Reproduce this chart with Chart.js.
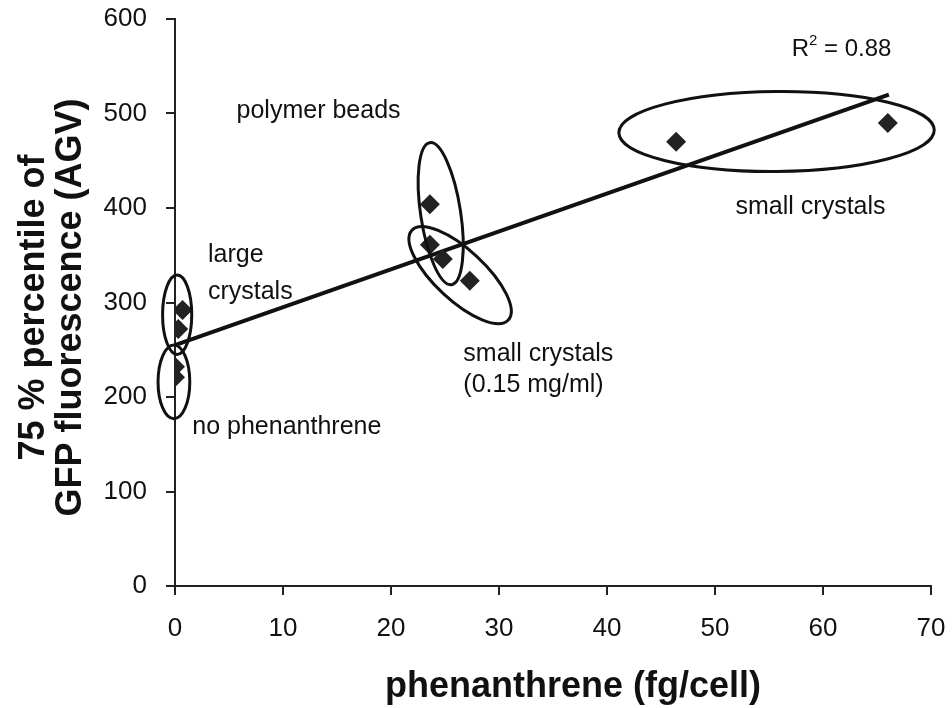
<!DOCTYPE html>
<html>
<head>
<meta charset="utf-8">
<script src="https://cdn.jsdelivr.net/npm/chart.js@4.4.1/dist/chart.umd.min.js"></script>
<style>
  html, body { margin: 0; padding: 0; background: #fff; }
  #chart { display: block; }
</style>
</head>
<body>
<canvas id="chart" width="952" height="708"></canvas>
<script>
// Measured samples: phenanthrene per cell vs 75th percentile GFP fluorescence
const phenX = [0.7, 0.3, 0, 0, 23.6, 23.6, 24.8, 27.3, 46.4, 66.0];
const gfpY = [292, 272, 232, 221, 404, 361, 346, 323, 470, 490];

// Linear fit endpoints
const fitX = [0, 66.1];
const fitY = [255, 520];
const rSquared = "0.88";

// Axis ranges
const xMin = 0, xMax = 70, xStep = 10;
const yMin = 0, yMax = 600, yStep = 100;

// Group labels (data coordinates, left edge / vertical middle)
const groupLabels = ["polymer beads", "large", "crystals", "small crystals", "small crystals", "(0.15 mg/ml)", "no phenanthrene"];
const groupLabelX = [5.7, 3.05, 3.05, 51.9, 26.7, 26.7, 1.6];
const groupLabelY = [503, 350, 311, 401, 245, 213, 168];

// Group outlines: centre, radii (x units, y units), tilt in degrees
const ringX = [0.2, -0.1, 24.6, 26.4, 55.7];
const ringY = [287, 216, 394, 329, 481];
const ringRx = [1.35, 1.47, 1.85, 6.1, 14.6];
const ringRy = [42, 39, 76, 26.5, 42.3];
const ringTilt = [0, 0, -8.7, 43, -0.5];

const FONT = "'Liberation Sans', Arial, sans-serif";

const points = phenX.map((x, i) => ({ x, y: gfpY[i] }));
const fitLine = fitX.map((x, i) => ({ x, y: fitY[i] }));

// Ellipses, group labels, R² and axis titles
const overlayPlugin = {
  id: "overlay",
  afterDatasetsDraw(chart) {
    const { ctx } = chart;
    const xs = chart.scales.x;
    const ys = chart.scales.y;

    ctx.save();
    ctx.strokeStyle = "#111";
    ctx.lineWidth = 3;
    ringX.forEach((cx, i) => {
      const px = xs.getPixelForValue(cx);
      const py = ys.getPixelForValue(ringY[i]);
      const rx = Math.abs(xs.getPixelForValue(cx + ringRx[i]) - px);
      const ry = Math.abs(ys.getPixelForValue(ringY[i] + ringRy[i]) - py);
      ctx.beginPath();
      ctx.ellipse(px, py, rx, ry, ringTilt[i] * Math.PI / 180, 0, Math.PI * 2);
      ctx.stroke();
    });

    ctx.fillStyle = "#111";
    ctx.font = "25px " + FONT;
    ctx.textAlign = "left";
    ctx.textBaseline = "middle";
    groupLabels.forEach((text, i) => {
      ctx.fillText(text, xs.getPixelForValue(groupLabelX[i]), ys.getPixelForValue(groupLabelY[i]));
    });

    // R² with a raised 2
    ctx.font = "24px " + FONT;
    let rx = xs.getPixelForValue(57.1);
    const ry = ys.getPixelForValue(568);
    ctx.fillText("R", rx, ry);
    rx += ctx.measureText("R").width;
    ctx.font = "15px " + FONT;
    ctx.fillText("2", rx, ry - 8);
    rx += ctx.measureText("2").width;
    ctx.font = "24px " + FONT;
    ctx.fillText(" = " + rSquared, rx, ry);
    ctx.restore();
  },
  afterDraw(chart) {
    const { ctx, chartArea } = chart;
    ctx.save();
    ctx.fillStyle = "#111";
    ctx.font = "bold 36px " + FONT;
    ctx.textAlign = "center";
    ctx.textBaseline = "alphabetic";
    ctx.fillText("phenanthrene (fg/cell)", 573, 697);

    const midY = (chartArea.top + chartArea.bottom) / 2 + 5;
    ctx.translate(0, midY);
    ctx.rotate(-Math.PI / 2);
    ctx.fillText("75 % percentile of", 0, 44);
    ctx.fillText("GFP fluorescence (AGV)", 0, 81);
    ctx.restore();
  }
};

new Chart(document.getElementById("chart"), {
  type: "scatter",
  data: {
    datasets: [
      {
        type: "line",
        data: fitLine,
        borderColor: "#111",
        borderWidth: 4,
        pointRadius: 0,
        fill: false,
        order: 2
      },
      {
        data: points,
        pointStyle: "rectRot",
        pointRadius: 10,
        backgroundColor: "#222",
        borderWidth: 0,
        order: 1
      }
    ]
  },
  options: {
    responsive: false,
    animation: false,
    devicePixelRatio: 1,
    layout: { padding: { top: 19, right: 21, left: 0, bottom: 0 } },
    plugins: {
      legend: { display: false },
      tooltip: { enabled: false }
    },
    scales: {
      x: {
        type: "linear",
        min: xMin,
        max: xMax,
        ticks: { stepSize: xStep, color: "#111", padding: 18, font: { size: 26, family: FONT } },
        grid: { drawOnChartArea: false, drawTicks: true, tickLength: 9, color: "#222", lineWidth: 2 },
        border: { display: true, color: "#222", width: 2 },
        afterFit(scale) {
          scale.height = 122;
          scale.paddingLeft = 0;
          scale.paddingRight = 0;
        }
      },
      y: {
        type: "linear",
        min: yMin,
        max: yMax,
        ticks: { stepSize: yStep, color: "#111", padding: 19, font: { size: 26, family: FONT } },
        grid: { drawOnChartArea: false, drawTicks: true, tickLength: 9, color: "#222", lineWidth: 2 },
        border: { display: true, color: "#222", width: 2 },
        afterFit(scale) {
          scale.width = 175;
          scale.paddingTop = 0;
          scale.paddingBottom = 0;
        }
      }
    }
  },
  plugins: [overlayPlugin]
});
</script>
</body>
</html>
